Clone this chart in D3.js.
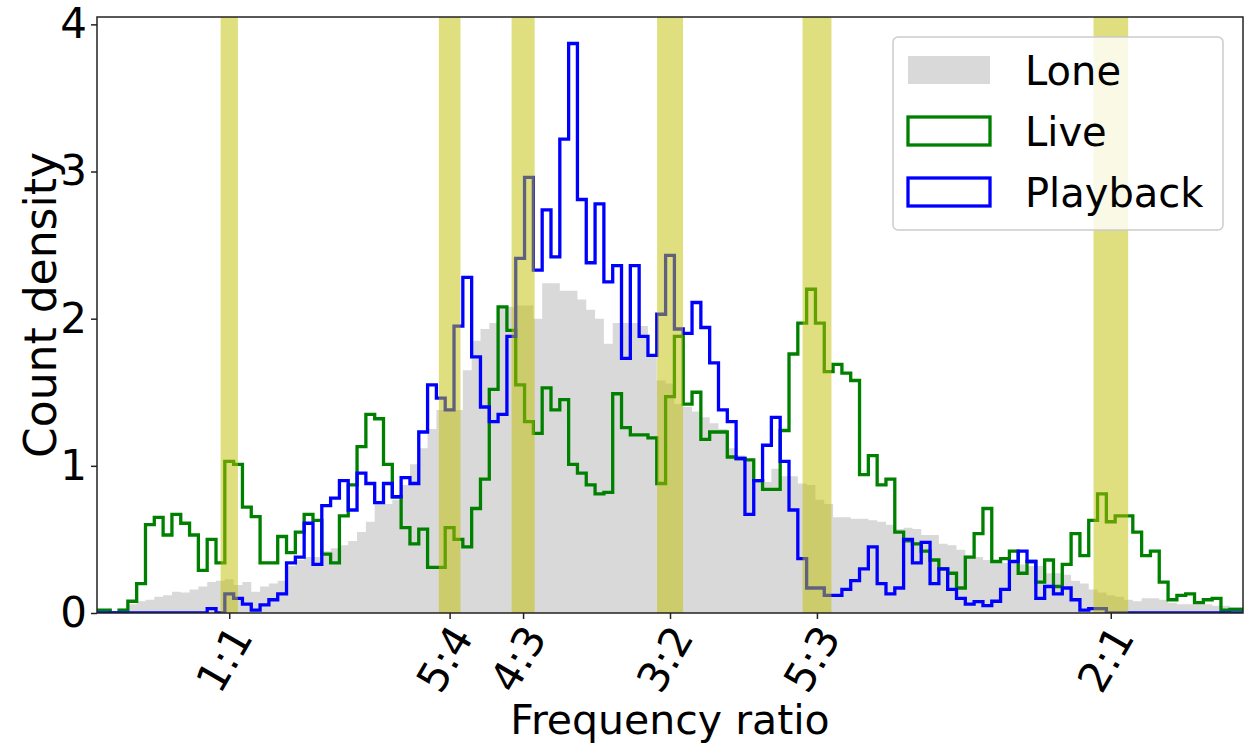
<!DOCTYPE html>
<html>
<head>
<meta charset="utf-8">
<script src="https://cdn.jsdelivr.net/npm/d3@7"></script>
<style>
  body { margin: 0; background: #fff; }
  text { font-family: "DejaVu Sans", sans-serif; fill: #000; }
</style>
</head>
<body>
<script>
const width = 1245;
const height = 745;
const plot = {left: 97, right: 1243, top: 17, bottom: 613};

// histogram bins: 0.01 wide, first bin starts at 0.845
const BIN_START = 0.845;
const BIN_WIDTH = 0.01;

const lone = [
  0, 0.005, 0.01, 0.03, 0.06, 0.08, 0.09, 0.11, 0.12, 0.145,
  0.14, 0.16, 0.18, 0.21, 0.22, 0.23, 0.19, 0.21, 0.145, 0.18,
  0.20, 0.22, 0.32, 0.36, 0.38, 0.38, 0.42, 0.44, 0.46, 0.49,
  0.55, 0.62, 0.74, 0.74, 0.77, 0.87, 1.01, 1.12, 1.25, 1.38,
  1.38, 1.38, 1.65, 1.85, 1.93, 1.97, 2.08, 2.08, 2.09, 2.09,
  2.0, 2.24, 2.24, 2.19, 2.19, 2.13, 2.06, 2.0, 1.83, 1.97,
  1.97, 1.97, 1.95, 1.75, 1.58, 1.56, 1.42, 1.40, 1.37, 1.33,
  1.29, 1.25, 1.12, 1.07, 1.05, 0.91, 0.89, 0.98, 0.93, 0.93,
  0.88, 0.87, 0.77, 0.74, 0.65, 0.65, 0.64, 0.64, 0.63, 0.62,
  0.60, 0.57, 0.58, 0.57, 0.53, 0.53, 0.47, 0.46, 0.43, 0.39,
  0.38, 0.36, 0.35, 0.34, 0.34, 0.33, 0.32, 0.32, 0.27, 0.27,
  0.26, 0.22, 0.20, 0.16, 0.14, 0.12, 0.11, 0.09, 0.08, 0.10,
  0.10, 0.09, 0.07, 0.06, 0.06, 0.06, 0.06, 0.05, 0.05, 0.04,
  0.04
];

const live = [
  0.02, 0.02, 0, 0.02, 0.08, 0.2, 0.6, 0.65, 0.53, 0.67,
  0.61, 0.53, 0.29, 0.5, 0.34, 1.03, 1.01, 0.72, 0.655, 0.34,
  0.34, 0.52, 0.41, 0.55, 0.67, 0.63, 0.40, 0.34, 0.66, 0.87,
  1.13, 1.35, 1.32, 1.01, 0.79, 0.58, 0.47, 0.57, 0.31, 0.31,
  0.58, 0.50, 0.45, 0.71, 0.91, 1.52, 2.08, 1.92, 1.55, 1.30,
  1.22, 1.53, 1.38, 1.45, 1.01, 0.95, 0.87, 0.81, 0.82, 1.49,
  1.26, 1.21, 1.21, 1.19, 0.88, 1.47, 1.88, 1.42, 1.50, 1.18,
  1.23, 1.23, 1.06, 1.05, 1.04, 0.90, 0.84, 0.84, 1.24, 1.76,
  1.97, 2.20, 1.97, 1.64, 1.69, 1.63, 1.58, 0.94, 1.07, 0.87,
  0.91, 0.55, 0.49, 0.47, 0.42, 0.36, 0.30, 0.27, 0.17, 0.38,
  0.54, 0.71, 0.35, 0.37, 0.42, 0.27, 0.35, 0.21, 0.36, 0.18,
  0.33, 0.54, 0.39, 0.63, 0.81, 0.62, 0.66, 0.66, 0.55, 0.39,
  0.42, 0.21, 0.09, 0.12, 0.13, 0.07, 0.09, 0.10, 0.02, 0.025,
  0.025
];

const playback = [
  0, 0, 0, 0, 0, 0, 0, 0, 0, 0,
  0, 0, 0, 0.03, 0, 0.13, 0.10, 0.06, 0.02, 0.055,
  0.09, 0.13, 0.34, 0.38, 0.61, 0.33, 0.73, 0.78, 0.90, 0.70,
  0.95, 0.88, 0.75, 0.88, 0.79, 0.92, 0.88, 1.23, 1.55, 1.46,
  1.38, 1.95, 2.28, 1.74, 1.40, 1.30, 1.35, 1.88, 2.41, 2.96,
  2.33, 2.74, 2.42, 3.22, 3.87, 2.81, 2.38, 2.78, 2.25, 2.36,
  1.73, 2.36, 1.88, 1.75, 2.03, 2.43, 1.93, 1.90, 2.11, 1.94,
  1.70, 1.38, 1.30, 1.05, 0.67, 0.90, 1.14, 1.33, 1.03, 0.70,
  0.37, 0.17, 0.17, 0.12, 0.12, 0.16, 0.22, 0.30, 0.45, 0.20,
  0.13, 0.17, 0.50, 0.34, 0.48, 0.20, 0.30, 0.16, 0.10, 0.06,
  0.077, 0.05, 0.08, 0.16, 0.35, 0.42, 0.35, 0.10, 0.18, 0.13,
  0.17, 0.09, 0.02, 0.03, 0.03, 0, 0, 0, 0, 0,
  0, 0, 0, 0, 0, 0, 0, 0, 0, 0,
  0
];

const ratioValues = [1, 5 / 4, 4 / 3, 3 / 2, 5 / 3, 2];
const ratioLabels = ["1:1", "5:4", "4:3", "3:2", "5:3", "2:1"];
const yTicks = [0, 1, 2, 3, 4];
const seriesNames = ["Lone", "Live", "Playback"];

const BAND_CENTS = 17;   // half width of the consonance bands
const TICK_FONT = 42;
const LABEL_FONT = 44;
const LEGEND_FONT = 40;
const LINE_W = 3.3;

const svg = d3.select("body").append("svg")
    .attr("width", width)
    .attr("height", height);

const x = d3.scaleLinear().domain([0.85, 2.15]).range([plot.left, plot.right]);
const y = d3.scaleLinear().domain([0, 4.05]).range([plot.bottom, plot.top]);

svg.append("clipPath").attr("id", "clip")
  .append("rect")
    .attr("x", plot.left).attr("y", plot.top)
    .attr("width", plot.right - plot.left)
    .attr("height", plot.bottom - plot.top);

// step outline points for a histogram
function stepPoints(values) {
  const pts = [[BIN_START, 0]];
  values.forEach((v, i) => {
    const x0 = BIN_START + i * BIN_WIDTH;
    pts.push([x0, v], [x0 + BIN_WIDTH, v]);
  });
  pts.push([BIN_START + values.length * BIN_WIDTH, 0]);
  return pts;
}

const g = svg.append("g").attr("clip-path", "url(#clip)");

const area = d3.area()
    .x(d => x(d[0]))
    .y0(y(0))
    .y1(d => y(d[1]));
const line = d3.line()
    .x(d => x(d[0]))
    .y(d => y(d[1]));

g.append("path")
    .attr("d", area(stepPoints(lone)))
    .attr("fill", "#d9d9d9");

g.append("path")
    .attr("d", line(stepPoints(live)))
    .attr("fill", "none")
    .attr("stroke", "#008000")
    .attr("stroke-width", LINE_W);

g.append("path")
    .attr("d", line(stepPoints(playback)))
    .attr("fill", "none")
    .attr("stroke", "#0000ff")
    .attr("stroke-width", LINE_W);

// yellow bands around just ratios
const f = Math.pow(2, BAND_CENTS / 1200);
g.selectAll("rect.band")
  .data(ratioValues)
  .enter().append("rect")
    .attr("class", "band")
    .attr("x", d => x(d / f))
    .attr("width", d => x(d * f) - x(d / f))
    .attr("y", plot.top)
    .attr("height", plot.bottom - plot.top)
    .attr("fill", "rgb(191,191,0)")
    .attr("fill-opacity", 0.5);

// axes
const yAxis = svg.append("g")
    .attr("transform", `translate(${plot.left},0)`)
    .call(d3.axisLeft(y).tickValues(yTicks).tickFormat(d3.format("d")).tickSize(6).tickPadding(4));
yAxis.select(".domain").remove();
yAxis.selectAll("text").style("font-size", TICK_FONT + "px");

const xAxis = svg.append("g")
    .attr("transform", `translate(0,${plot.bottom})`)
    .call(d3.axisBottom(x).tickValues(ratioValues).tickFormat("").tickSize(6));
xAxis.select(".domain").remove();

svg.append("g").selectAll("text")
  .data(ratioValues)
  .enter().append("text")
    .attr("transform", d => `translate(${x(d) - 5},${plot.bottom + 46}) rotate(-60)`)
    .attr("text-anchor", "middle")
    .attr("dy", "0.35em")
    .style("font-size", TICK_FONT + "px")
    .text((d, i) => ratioLabels[i]);

svg.selectAll(".tick line").attr("stroke", "#222").attr("stroke-width", 1.5);

svg.append("rect")
    .attr("x", plot.left).attr("y", plot.top)
    .attr("width", plot.right - plot.left)
    .attr("height", plot.bottom - plot.top)
    .attr("fill", "none")
    .attr("stroke", "#222")
    .attr("stroke-width", 1.5);

svg.append("text")
    .attr("x", (plot.left + plot.right) / 2)
    .attr("y", 734)
    .attr("text-anchor", "middle")
    .style("font-size", "41px")
    .text("Frequency ratio");

svg.append("text")
    .attr("transform", `translate(56,${(plot.top + plot.bottom) / 2 - 10}) rotate(-90)`)
    .attr("text-anchor", "middle")
    .style("font-size", LABEL_FONT + "px")
    .text("Count density");

// legend
const legend = svg.append("g");
legend.append("rect")
    .attr("x", 893).attr("y", 37)
    .attr("width", 330).attr("height", 193)
    .attr("rx", 5)
    .attr("fill", "#fff").attr("fill-opacity", 0.8)
    .attr("stroke", "#ccc").attr("stroke-width", 1.5);

const legendStyles = [
  {fill: "#d9d9d9", stroke: "none"},
  {fill: "none", stroke: "#008000"},
  {fill: "none", stroke: "#0000ff"}
];
seriesNames.forEach((name, i) => {
  const cy = 70 + i * 61;
  legend.append("rect")
      .attr("x", 908).attr("y", cy - 14)
      .attr("width", 82).attr("height", 28)
      .attr("fill", legendStyles[i].fill)
      .attr("stroke", legendStyles[i].stroke)
      .attr("stroke-width", LINE_W);
  legend.append("text")
      .attr("x", 1025).attr("y", cy + 15)
      .style("font-size", LEGEND_FONT + "px")
      .text(name);
});
</script>
</body>
</html>
